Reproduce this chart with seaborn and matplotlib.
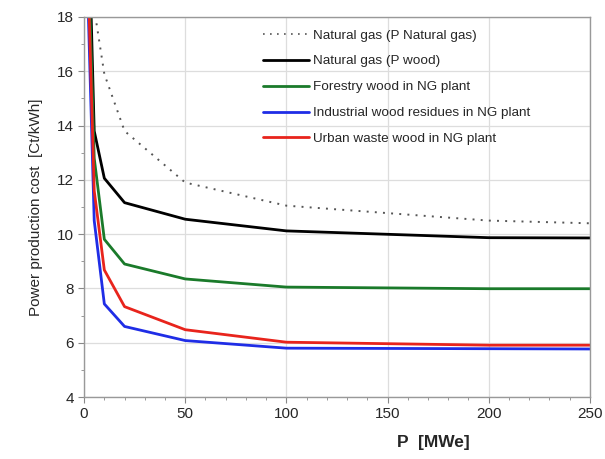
import matplotlib
matplotlib.use("Agg")
import matplotlib.pyplot as plt
import numpy as np
import pandas as pd
import seaborn as sns
from matplotlib.ticker import MultipleLocator

# plant size [MWe]
power = [1, 5, 10, 20, 50, 100, 200, 250]

# power production cost [Ct/kWh]
ng_p_ng = [30.0, 18.3, 15.9, 13.8, 11.9, 11.05, 10.5, 10.4]
ng_p_wood = [25.0, 13.8, 12.06, 11.16, 10.55, 10.12, 9.87, 9.86]
forestry = [23.0, 12.8, 9.81, 8.9, 8.35, 8.05, 7.99, 7.99]
industrial = [21.0, 10.5, 7.43, 6.6, 6.08, 5.8, 5.78, 5.77]
urban = [22.0, 11.6, 8.68, 7.33, 6.48, 6.02, 5.91, 5.91]

labels = [
    "Natural gas (P Natural gas)",
    "Natural gas (P wood)",
    "Forestry wood in NG plant",
    "Industrial wood residues in NG plant",
    "Urban waste wood in NG plant",
]
colors = ["#555555", "#000000", "#1a7a2a", "#1f2de6", "#e8241c"]

series = [ng_p_ng, ng_p_wood, forestry, industrial, urban]
df = pd.concat(
    [pd.DataFrame({"P": power, "cost": vals, "series": lab}) for lab, vals in zip(labels, series)],
    ignore_index=True,
)

sns.set_style("whitegrid")
plt.rcParams["font.family"] = ["Liberation Sans", "DejaVu Sans"]

fig = plt.figure(figsize=(6.05, 4.59), dpi=100)
ax = fig.add_axes([0.139, 0.135, 0.836, 0.828])

sns.lineplot(
    data=df, x="P", y="cost", hue="series", style="series",
    palette=dict(zip(labels, colors)),
    dashes={labels[0]: (1, 3.2), **{lab: "" for lab in labels[1:]}},
    linewidth=2.0, ax=ax, legend=True,
)
# dotted line thinner
ax.lines[0].set_linewidth(1.4)

ax.set_xlim(0, 250)
ax.set_ylim(4, 18)
ax.xaxis.set_major_locator(MultipleLocator(50))
ax.yaxis.set_major_locator(MultipleLocator(2))
ax.xaxis.set_minor_locator(MultipleLocator(10))
ax.yaxis.set_minor_locator(MultipleLocator(1))
ax.tick_params(which="both", direction="out", color="#888888", labelsize=11)
ax.tick_params(which="major", length=4, bottom=True, left=True)
ax.tick_params(which="minor", length=2.5, bottom=True, left=True)
ax.grid(which="major", color="#dddddd", linewidth=0.9)
for s in ax.spines.values():
    s.set_color("#999999")
    s.set_linewidth(1.0)

ax.set_ylabel("Power production cost  [Ct/kWh]", fontsize=11, labelpad=10)
ax.set_xlabel("P  [MWe]", fontsize=12.5, fontweight="bold", labelpad=14)
ax.xaxis.set_label_coords(0.69, -0.1)

leg = ax.legend(
    loc="upper left", bbox_to_anchor=(0.33, 1.0), frameon=False, fontsize=9.7,
    handlelength=3.4, handletextpad=0.3, labelspacing=1.0,
)
for h, c in zip(leg.get_lines(), colors):
    h.set_linewidth(2.0)
leg.get_lines()[0].set_linewidth(1.2)

fig.savefig("out.png", dpi=100)
